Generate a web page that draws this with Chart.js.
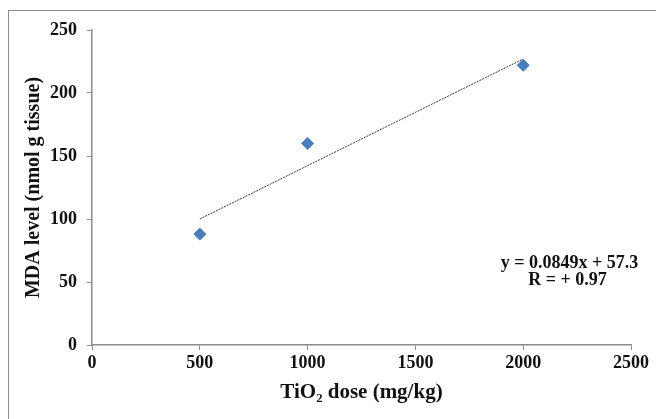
<!DOCTYPE html>
<html>
<head>
<meta charset="utf-8">
<script src="https://cdn.jsdelivr.net/npm/chart.js@4.4.1/dist/chart.umd.min.js"></script>
<style>
  html, body { margin: 0; padding: 0; background: #fff; }
  #wrap { position: relative; width: 656px; height: 419px; overflow: hidden; }
  #frame { position: absolute; left: 8px; top: 10px; width: 800px; height: 600px;
           border-left: 1.5px solid #8c8c8c; border-top: 1.5px solid #8c8c8c; }
  canvas { position: absolute; left: 0; top: 0; }
</style>
</head>
<body>
<div id="wrap">
  <div id="frame"></div>
  <canvas id="chart" width="656" height="419"></canvas>
</div>
<script>
// ===== DATA =====
const doses     = [500, 1000, 2000];       // TiO2 dose (mg/kg)
const mdaLevels = [88, 160, 222];          // MDA level (nmol g tissue)
const trendX    = [500, 2000];             // trendline ends
const trendY    = [100, 227];
const xTicks    = [0, 500, 1000, 1500, 2000, 2500];
const yTicks    = [0, 50, 100, 150, 200, 250];
const eqLines   = ['y = 0.0849x + 57.3', 'R = + 0.97'];
const eqAnchor  = { x: [2215, 2205], y: [65, 51] };  // where the equation sits, in data units

const SERIF = "'Liberation Serif', 'Times New Roman', serif";
const AXIS_GREY = '#8c8c8c';

// equation label, placed through the scales
const equationLabel = {
  id: 'equationLabel',
  afterDatasetsDraw(chart) {
    const { ctx, scales: { x, y } } = chart;
    ctx.save();
    ctx.fillStyle = '#111';
    ctx.font = `bold 18px ${SERIF}`;
    ctx.textAlign = 'center';
    ctx.textBaseline = 'middle';
    eqLines.forEach((t, i) => {
      ctx.fillText(t, x.getPixelForValue(eqAnchor.x[i]), y.getPixelForValue(eqAnchor.y[i]));
    });
    ctx.restore();
  }
};

new Chart(document.getElementById('chart'), {
  type: 'scatter',
  data: {
    datasets: [
      {
        label: 'MDA',
        data: doses.map((d, i) => ({ x: d, y: mdaLevels[i] })),
        pointStyle: 'rectRot',
        pointRadius: 6,
        pointHoverRadius: 6,
        backgroundColor: '#4a7ebb',
        borderColor: '#4a7ebb',
        borderWidth: 1,
        order: 1,
      },
      {
        label: 'Linear',
        type: 'line',
        data: trendX.map((d, i) => ({ x: d, y: trendY[i] })),
        borderColor: '#333',
        borderWidth: 1,
        borderDash: [2, 1],
        pointRadius: 0,
        fill: false,
        order: 2,
      }
    ]
  },
  options: {
    responsive: false,
    animation: false,
    layout: { padding: { left: 0, top: 30, right: 25, bottom: 0 } },
    plugins: {
      legend: { display: false },
      tooltip: { enabled: false },
    },
    scales: {
      x: {
        type: 'linear',
        min: 0,
        max: 2500,
        afterBuildTicks: s => { s.ticks = xTicks.map(v => ({ value: v })); },
        afterFit: s => { s.height = 74; },
        ticks: {
          color: '#111',
          font: { family: SERIF, size: 18, weight: 'bold' },
          padding: 3,
          maxRotation: 0,
          callback: v => String(v),
        },
        grid: { display: true, drawOnChartArea: false, drawTicks: true, tickLength: 5, color: AXIS_GREY },
        border: { display: true, color: AXIS_GREY, width: 1.5 },
        title: {
          display: true,
          text: 'TiO₂ dose (mg/kg)',
          color: '#111',
          font: { family: SERIF, size: 21, weight: 'bold' },
          padding: { top: 0, bottom: 14 },
        }
      },
      y: {
        type: 'linear',
        min: 0,
        max: 250,
        afterBuildTicks: s => { s.ticks = yTicks.map(v => ({ value: v })); },
        afterFit: s => { s.width = 92; },
        ticks: {
          color: '#111',
          font: { family: SERIF, size: 18, weight: 'bold' },
          padding: 10,
          callback: v => String(v),
        },
        grid: { display: true, drawOnChartArea: false, drawTicks: true, tickLength: 5, color: AXIS_GREY },
        border: { display: true, color: AXIS_GREY, width: 1.5 },
        title: {
          display: true,
          text: 'MDA level (nmol g tissue)',
          color: '#111',
          font: { family: SERIF, size: 20, weight: 'bold' },
          padding: { top: 22, bottom: 0 },
        }
      }
    }
  },
  plugins: [equationLabel]
});
</script>
</body>
</html>
